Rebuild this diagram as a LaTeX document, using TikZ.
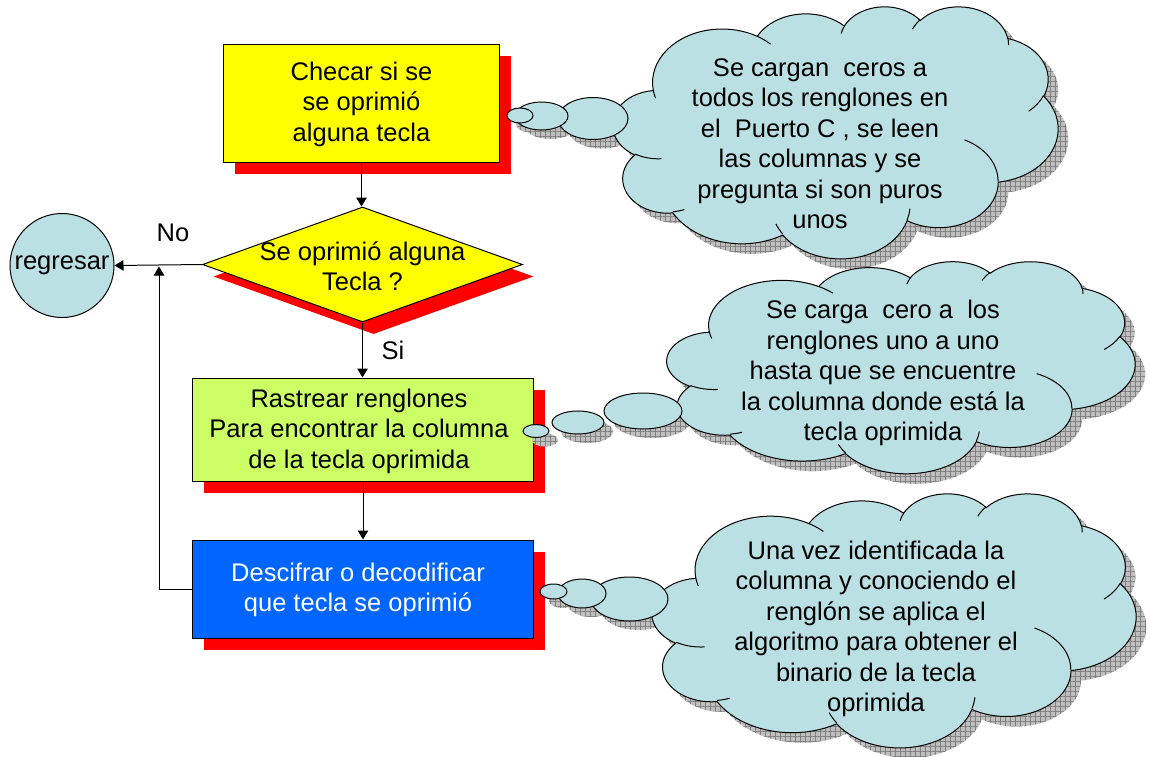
\documentclass[tikz,border=0pt]{standalone}
\usepackage{fontspec}
\setmainfont{Liberation Sans}
\usetikzlibrary{shapes.geometric,arrows.meta,patterns.meta}
\definecolor{cloudc}{RGB}{186,224,227}
\definecolor{boxyellow}{RGB}{255,255,0}
\definecolor{boxgreen}{RGB}{204,255,102}
\definecolor{boxblue}{RGB}{0,102,255}
\definecolor{shadowred}{RGB}{255,0,0}
\tikzset{
  ooarc/.style n args={4}{insert path={arc[x radius=#1, y radius=#2,
     start angle={atan2((#1)*sin(#3),(#2)*cos(#3))},
     delta angle={mod(atan2((#1)*sin((#3)+(#4)),(#2)*cos((#3)+(#4)))-atan2((#1)*sin(#3),(#2)*cos(#3))+720,360)}]}},
  cshadow/.style={fill=black!25, postaction={pattern={Hatch[distance=5pt,angle=0,line width=0.5pt]}, pattern color=black!50}},
  cbody/.style={fill=cloudc, draw=black, line width=1pt},
  cinner/.style={draw=black, line width=1pt},
  txt/.style={font=\fontsize{25.5}{30.5}\selectfont, align=center, inner sep=0pt},
  flowbox/.style={draw=black, line width=1pt, rectangle, inner sep=0pt},
  redshadow/.style={fill=shadowred, draw=none, inner sep=0pt},
  arr/.style={draw=black, line width=1pt, -{Triangle[length=9pt,width=10.5pt]}},
}
\newcommand\cloudline{(39.00,143.70)
 [ooarc={67.53}{91.90}{-190.4875}{123.7805}]
 [ooarc={53.33}{72.67}{-144.1024}{89.9452}]
 [ooarc={43.65}{59.45}{-145.8079}{99.7230}]
 [ooarc={48.57}{65.95}{-130.9861}{117.2417}]
 [ooarc={53.33}{72.73}{-78.7089}{109.0269}]
 [ooarc={67.75}{92.20}{-46.2673}{130.2690}]
 [ooarc={57.85}{78.67}{0.6250}{114.0333}]
 [ooarc={67.52}{92.15}{22.4516}{115.1726}]
 [ooarc={77.20}{105.43}{66.2426}{75.7110}]
 [ooarc={43.60}{59.18}{-274.9421}{146.7356}]
 [ooarc={43.45}{59.45}{-246.8285}{152.5189}] -- cycle}
\newcommand\cloudinner{
 (46.93,261.77) [ooarc={43.45}{59.45}{86.742}{26.4295}]
 (69.28,348.99) [ooarc={43.60}{59.18}{73.6105}{11.4475}]
 (164.78,390.90) [ooarc={67.52}{92.15}{137.6242}{14.0811}]
 (288.27,347.51) [ooarc={67.52}{92.15}{6.4533}{15.9984}]
 (341.29,229.54) [ooarc={57.85}{78.67}{-70.2924}{70.9174}]
 (417.98,153.54) [ooarc={53.33}{72.73}{30.3180}{27.7515}]
 (383.24,54.26) [ooarc={48.57}{65.95}{-13.7443}{14.8589}]
 (290.78,39.52) [ooarc={48.57}{65.95}{-149.1815}{18.1954}]
 (221.41,47.20) [ooarc={43.65}{59.45}{-163.4943}{17.6864}]
 (140.00,51.92) [ooarc={67.53}{91.90}{-66.7070}{12.3194}]
 (41.27,157.89) [ooarc={67.53}{91.90}{157.6544}{11.8582}]}
% #1 x, #2 y, #3 w, #4 h
\newcommand\cloudshadow[4]{%
  \begin{scope}[shift={(#1+10,#2+10)}, x={(#3/432*1pt,0pt)}, y={(0pt,-#4/432*1pt)}]
    \path[cshadow] \cloudline;
  \end{scope}}
\newcommand\cloudbody[4]{%
  \begin{scope}[shift={(#1,#2)}, x={(#3/432*1pt,0pt)}, y={(0pt,-#4/432*1pt)}]
    \path[cbody] \cloudline;
    \path[cinner] \cloudinner;
  \end{scope}}
\newcommand\bubshadow[4]{\path[cshadow] (#1+9,#2+9) ellipse[x radius=#3, y radius=#4];}
\newcommand\bubbody[4]{\path[cbody] (#1,#2) ellipse[x radius=#3, y radius=#4];}
\begin{document}
\begin{tikzpicture}[x=1pt, y=-1pt]
\useasboundingbox (0,0) rectangle (1151,756);
\fill[white] (0,0) rectangle (1151,756);

% flow boxes: shadows
\node[redshadow, minimum width=276pt, minimum height=118pt] (s1) at (372.5,115) {};
\node[diamond, fill=shadowred, minimum width=320pt, minimum height=115pt, inner sep=0pt] (s2) at (373.5,276.5) {};
\node[redshadow, minimum width=341pt, minimum height=103pt] (s3) at (374,441.5) {};
\node[redshadow, minimum width=341pt, minimum height=98pt] (s4) at (374,600.5) {};

% flow boxes
\node[flowbox, fill=boxyellow, minimum width=276pt, minimum height=118pt] (b1) at (361.5,103) {};
\node[txt] (t1) at (361.5,104) {Checar si se\\ se oprimió\\alguna tecla};
\node[diamond, draw=black, line width=1pt, fill=boxyellow, minimum width=320pt, minimum height=115pt, inner sep=0pt] (d) at (362.5,264.5) {};
\node[txt] (dt) at (362.5,266) {Se oprimió alguna\\Tecla ?};
\node[flowbox, fill=boxgreen, minimum width=341pt, minimum height=103pt] (b2) at (363,429.5) {};
\node[txt] (t2) at (359,431) {Rastrear renglones\\Para encontrar la columna\\de la tecla oprimida};
\node[flowbox, fill=boxblue, minimum width=341pt, minimum height=98pt] (b3) at (363,589) {};
\node[txt, text=white] (t3) at (358,590) {Descifrar o decodificar\\que tecla se oprimió};

\node[circle, draw=black, line width=1pt, fill=cloudc, minimum size=104pt, inner sep=0pt,
      font=\fontsize{25.5}{30.5}\selectfont] (reg) at (62,265.5) {regresar};

% connectors
\draw[arr] (b1.south) -- (b1.south |- d.north);
\draw[arr] (d.west) -- (reg.east);
\draw[arr] (d.south) -- (d.south |- b2.north);
\draw[arr] (b2.south) -- (b3.north);
\coordinate (fb) at (159,266.5);
\draw[arr] (b3.west) -| (fb);
\node[txt] (no) at (173,233) {No};
\node[txt] (si) at (393,350) {Si};

% cloud shadows
\cloudshadow{613}{6}{445}{252}
\bubshadow{593}{118.5}{35}{21}
\bubshadow{541.5}{116}{26.5}{14}
\bubshadow{520}{115.5}{13}{7.5}
\cloudshadow{667}{261}{468}{212}
\bubshadow{643}{411}{39}{18}
\bubshadow{578}{422.5}{26}{11.5}
\bubshadow{536}{431}{13}{6.5}
\cloudshadow{652}{493}{484}{254}
\bubshadow{629.5}{599}{38.5}{22}
\bubshadow{582}{593.5}{24}{14.5}
\bubshadow{553.5}{591.5}{13.5}{7.5}

% cloud bodies
\cloudbody{613}{6}{445}{252}
\bubbody{593}{118.5}{35}{21}
\bubbody{541.5}{116}{26.5}{14}
\bubbody{520}{115.5}{13}{7.5}
\cloudbody{667}{261}{468}{212}
\bubbody{643}{411}{39}{18}
\bubbody{578}{422.5}{26}{11.5}
\bubbody{536}{431}{13}{6.5}
\cloudbody{652}{493}{484}{254}
\bubbody{629.5}{599}{38.5}{22}
\bubbody{582}{593.5}{24}{14.5}
\bubbody{553.5}{591.5}{13.5}{7.5}

% cloud texts
\node[txt] (c1) at (820,143.5) {Se cargan\ \ ceros a\\todos los renglones en\\el\ \ Puerto C , se leen\\las columnas y se\\pregunta si son puros\\unos};
\node[txt] (c2) at (883,373) {Se carga\ \ cero a\ \ los\\renglones uno a uno\\hasta que se encuentre\\la columna donde está la\\tecla oprimida};
\node[txt] (c3) at (876,629) {Una vez identificada la\\columna y conociendo el\\renglón se aplica el\\algoritmo para obtener el\\binario de la tecla\\oprimida};
\end{tikzpicture}
\end{document}
